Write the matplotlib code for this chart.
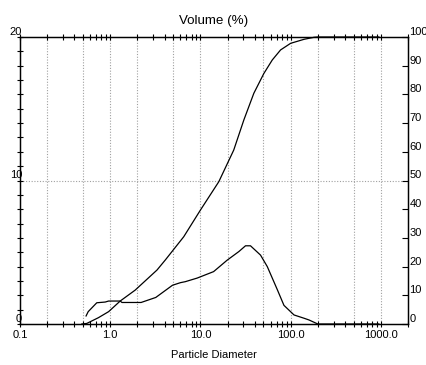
import matplotlib

matplotlib.use("Agg")
import matplotlib.pyplot as plt
from matplotlib.ticker import FixedLocator, LogLocator, NullFormatter

plt.rcParams["font.family"] = ["Liberation Sans", "DejaVu Sans"]
plt.rcParams["font.size"] = 8

# differential volume (left axis, %)
dist_size = [0.54, 0.57, 0.71, 0.88, 0.96, 1.29, 1.35, 2.2, 3.2, 4.9, 6.0, 6.8,
             9.2, 14.0, 19.8, 26.7, 31.6, 35.9, 46.4, 55.1, 71.1, 84.3, 109.0,
             141.0, 160.0, 200.0, 950.0]
dist_vol = [0.56, 0.86, 1.48, 1.53, 1.6, 1.6, 1.5, 1.5, 1.85, 2.7, 2.88, 2.95,
            3.2, 3.65, 4.45, 5.05, 5.45, 5.45, 4.8, 4.0, 2.4, 1.3, 0.63,
            0.4, 0.28, 0.0, 0.0]

# cumulative volume (right axis, %)
cum_size = [0.485, 0.55, 0.74, 0.96, 1.29, 1.89, 3.3, 4.08, 6.53, 10.0, 16.0,
            23.4, 30.3, 39.1, 50.5, 62.6, 77.4, 100.0, 141.0, 182.0, 200.0, 950.0]
cum_vol = [0.0, 0.2, 2.2, 4.3, 8.0, 11.8, 18.8, 22.3, 30.4, 39.7, 49.6,
           60.6, 71.1, 80.4, 87.3, 92.0, 95.5, 97.8, 99.2, 99.9, 100.0, 100.0]

x_major = [0.1, 1.0, 10.0, 100.0, 1000.0]
x_labels = ["0.1", "1.0", "10.0", "100.0", "1000.0"]
x_grid = [0.2, 0.5, 1, 2, 5, 10, 20, 50, 100, 200, 500, 1000]

fig = plt.figure(figsize=(4.27, 3.65), dpi=100)
ax = fig.add_axes([20 / 427, 1 - 324 / 365, 388 / 427, 287 / 365])
ax2 = ax.twinx()

ax.set_xscale("log")
ax.set_xlim(0.1, 2000)
ax.set_ylim(0, 20)
ax2.set_ylim(0, 100)

grid_kw = dict(color="#a0a0a0", lw=0.8, ls=(0, (1, 1.5)), zorder=0)
for g in x_grid:
    ax.axvline(g, **grid_kw)
ax.axhline(10, **grid_kw)

ax.plot(dist_size, dist_vol, color="black", lw=0.9)
ax2.plot(cum_size, cum_vol, color="black", lw=0.9, clip_on=False)

ax.xaxis.set_major_locator(FixedLocator(x_major))
ax.set_xticklabels(x_labels)
ax.xaxis.set_minor_locator(LogLocator(base=10, subs=range(2, 10), numticks=20))
ax.xaxis.set_minor_formatter(NullFormatter())
ax.tick_params(axis="x", which="both", direction="inout", length=4, width=0.8,
               top=True, pad=2)

ax.set_yticks([0, 10, 20])
ax.yaxis.set_minor_locator(FixedLocator(range(0, 21)))
ax.tick_params(axis="y", which="both", direction="inout", length=5, width=0.8,
               pad=-4)
for lab in ax.get_yticklabels():
    lab.set_verticalalignment("bottom")

ax2.set_yticks(range(0, 101, 10))
ax2.tick_params(axis="y", direction="in", length=4, width=0.8, pad=1)
for lab in ax2.get_yticklabels():
    lab.set_verticalalignment("bottom")

for a in (ax, ax2):
    for s in a.spines.values():
        s.set_linewidth(0.9)

ax.set_title("Volume (%)", y=1.045, pad=0)
ax.set_xlabel("Particle Diameter")
ax.xaxis.set_label_coords(0.5, -0.092)

fig.savefig("out.png", dpi=100)
